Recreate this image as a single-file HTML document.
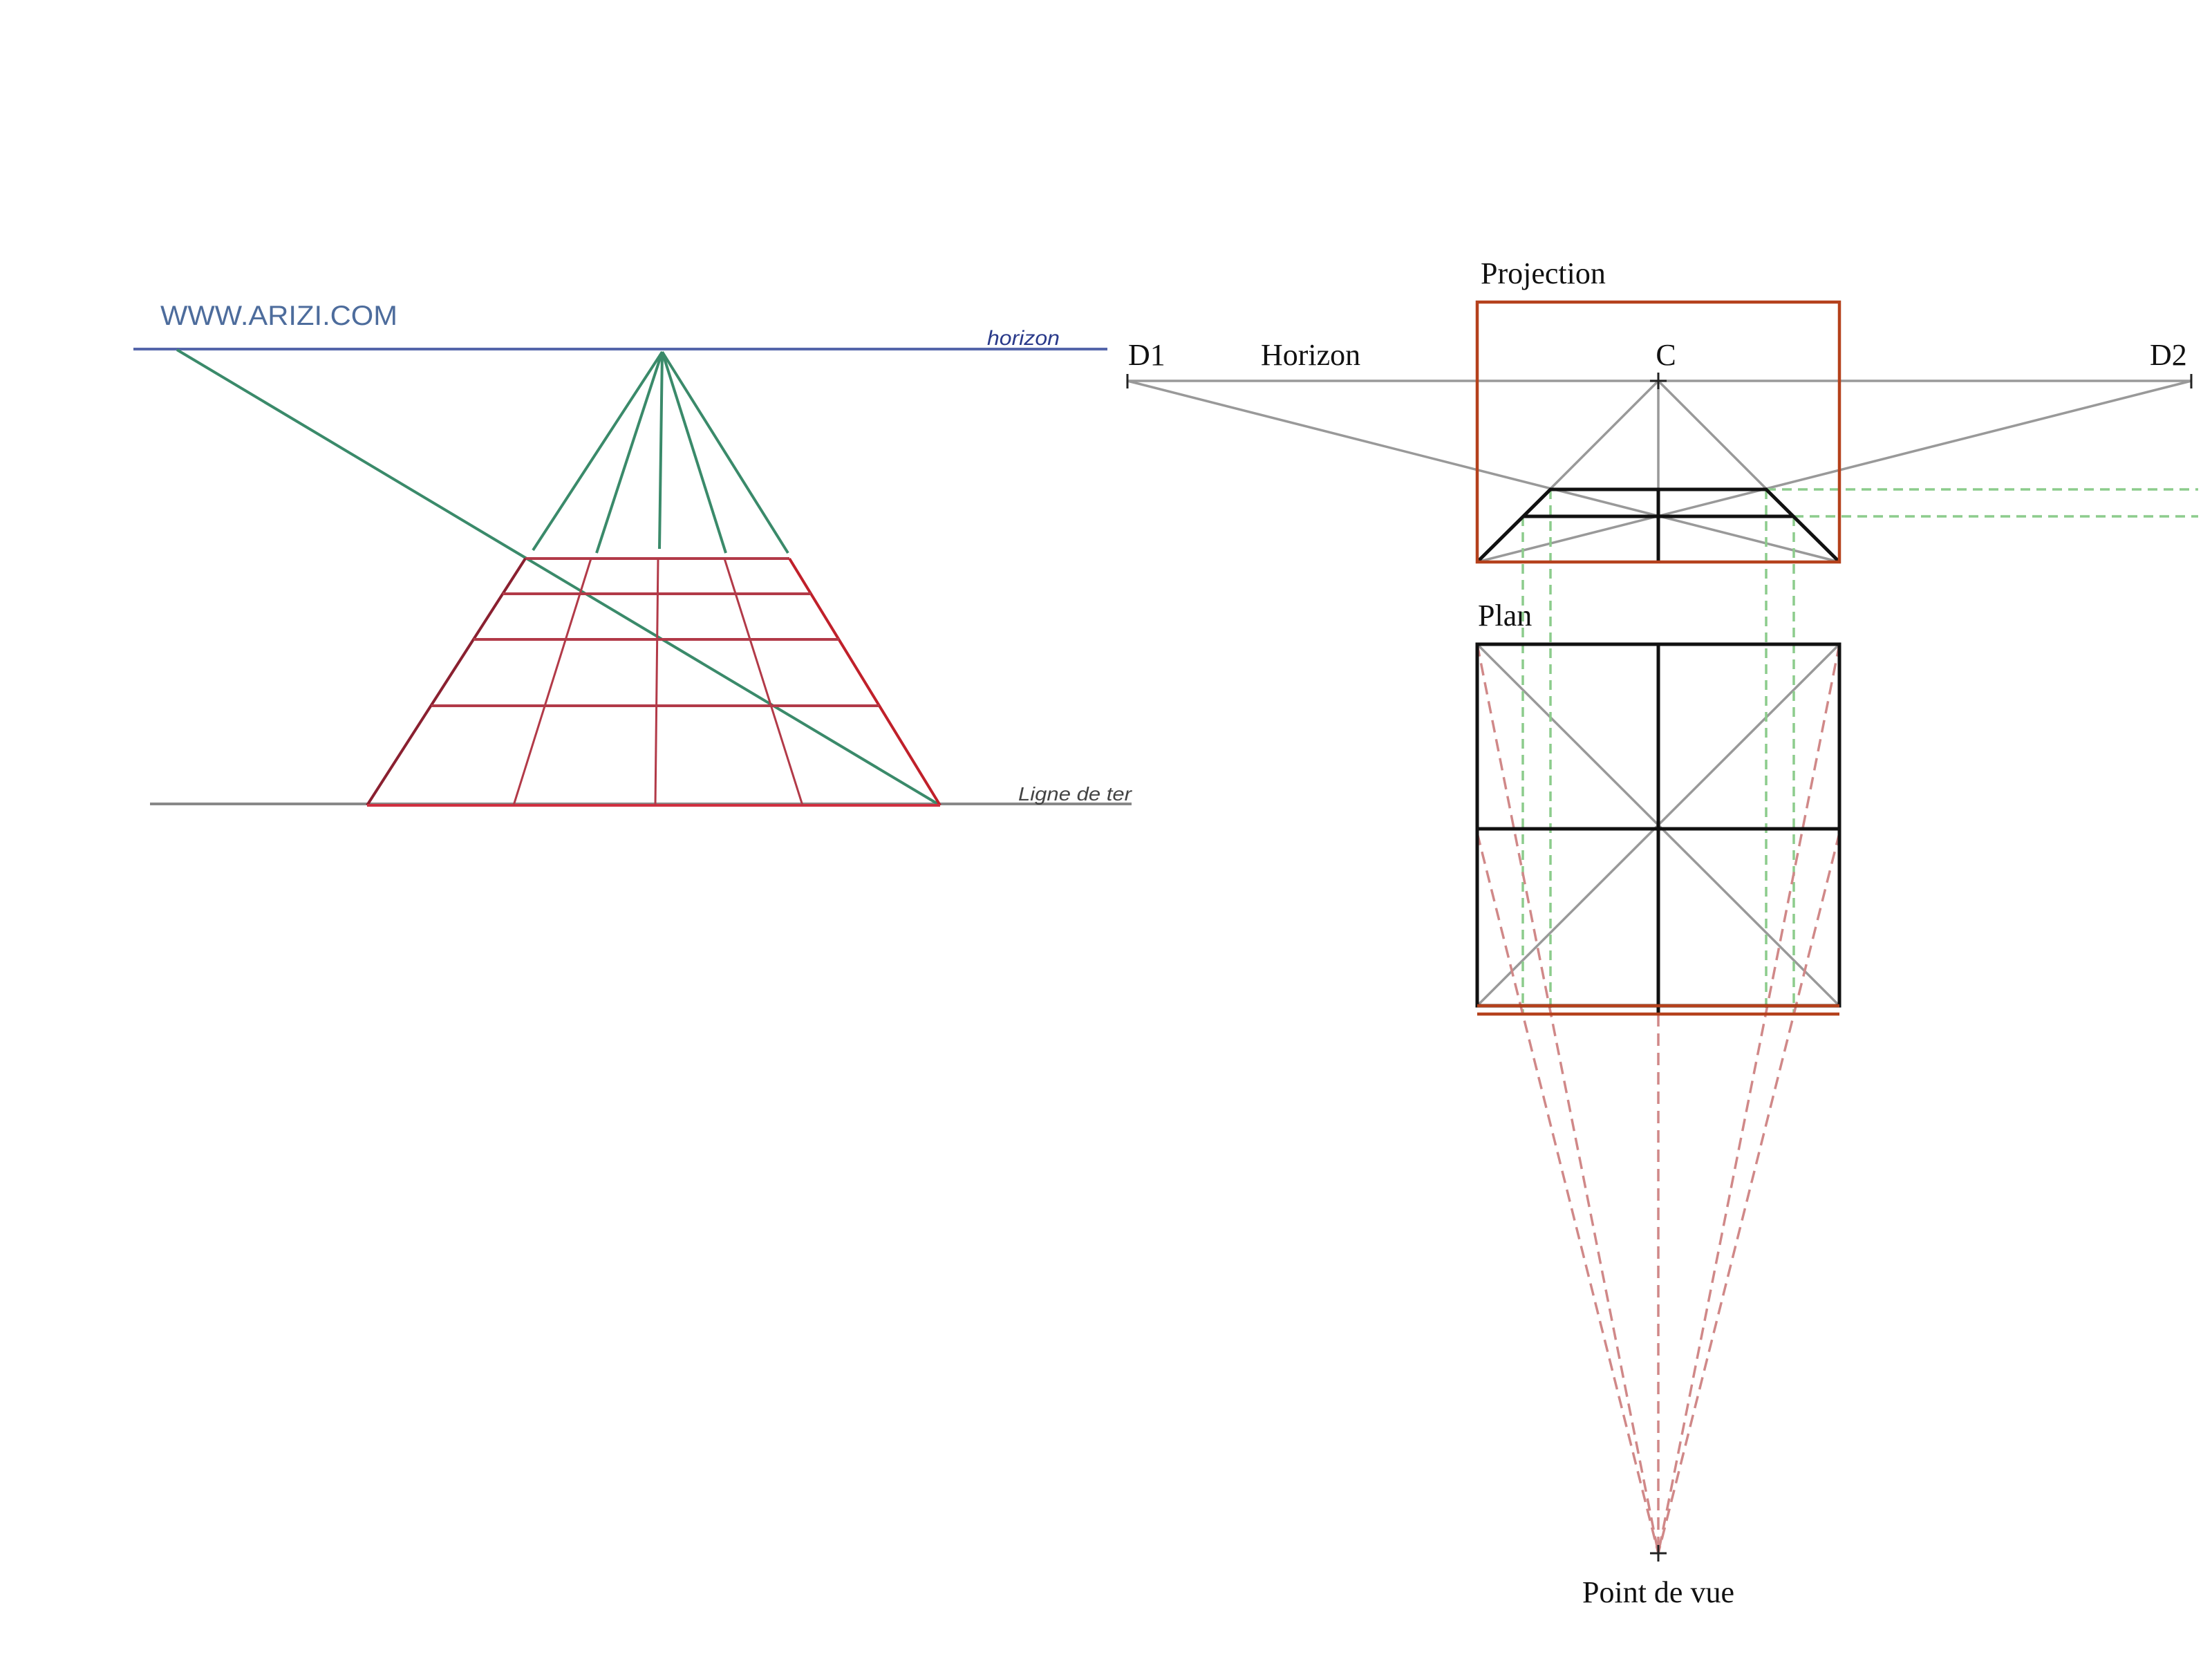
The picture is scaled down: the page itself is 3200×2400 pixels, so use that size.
<!DOCTYPE html>
<html><head><meta charset="utf-8"><style>html,body{margin:0;padding:0;background:#fff}svg{display:block}</style></head>
<body>
<svg width="3200" height="2400" viewBox="0 0 3200 2400" xmlns="http://www.w3.org/2000/svg">
<rect width="3200" height="2400" fill="#fff"/>
<!-- LEFT DRAWING -->
<text x="232" y="470" font-family="Liberation Sans, sans-serif" font-size="40" fill="#4d6c9c" textLength="343" lengthAdjust="spacingAndGlyphs">WWW.ARIZI.COM</text>
<line x1="193" y1="505" x2="1602" y2="505" stroke="#5566aa" stroke-width="4"/>
<text x="1428" y="499" font-family="Liberation Sans, sans-serif" font-size="30" fill="#2a3a8a" font-style="italic" textLength="105" lengthAdjust="spacingAndGlyphs">horizon</text>
<line x1="217" y1="1163" x2="1637" y2="1163" stroke="#888" stroke-width="4"/>
<text x="1473" y="1158" font-family="Liberation Sans, sans-serif" font-size="28" fill="#444" font-style="italic" textLength="164" lengthAdjust="spacingAndGlyphs">Ligne de ter</text>
<g stroke="#3a8a6a" stroke-width="4">
<line x1="256" y1="506" x2="1360" y2="1165"/>
<line x1="958" y1="509" x2="771" y2="796"/>
<line x1="958" y1="509" x2="863" y2="800"/>
<line x1="958" y1="509" x2="954" y2="794"/>
<line x1="958" y1="509" x2="1050" y2="800"/>
<line x1="958" y1="509" x2="1140" y2="800"/>
</g>
<g stroke="#b23a48" stroke-width="4">
<line x1="760" y1="808" x2="1142" y2="808"/>
<line x1="760" y1="808" x2="531" y2="1165" stroke="#8a2030"/>
<line x1="1142" y1="808" x2="1360" y2="1165" stroke="#c0202a"/>
<line x1="531" y1="1165" x2="1360" y2="1165" stroke="#d03040"/>
<line x1="727" y1="859" x2="1173" y2="859"/>
<line x1="685" y1="925" x2="1214" y2="925"/>
<line x1="624" y1="1021" x2="1272" y2="1021"/>
<line x1="855" y1="808" x2="743" y2="1165" stroke-width="3"/>
<line x1="952" y1="808" x2="948" y2="1165" stroke-width="3"/>
<line x1="1048" y1="808" x2="1161" y2="1165" stroke-width="3"/>
</g>
<!-- RIGHT DIAGRAM -->
<g font-family="Liberation Serif, serif" font-size="44" fill="#111">
<text x="2142" y="410">Projection</text>
<text x="1632" y="528">D1</text>
<text x="1824" y="528">Horizon</text>
<text x="2410" y="528" text-anchor="middle">C</text>
<text x="3110" y="528">D2</text>
<text x="2138" y="905">Plan</text>
<text x="2399" y="2318" text-anchor="middle">Point de vue</text>
</g>
<g stroke="#999" stroke-width="3.5" fill="none">
<line x1="1631" y1="551" x2="3170" y2="551"/>
<line x1="1631" y1="551" x2="2661" y2="813"/>
<line x1="3170" y1="551" x2="2137" y2="813"/>
<line x1="2399" y1="551" x2="2137" y2="813"/>
<line x1="2399" y1="551" x2="2661" y2="813"/>
<line x1="2399" y1="551" x2="2399" y2="708"/>
<line x1="2137" y1="932" x2="2661" y2="1455"/>
<line x1="2661" y1="932" x2="2137" y2="1455"/>
</g>
<g stroke="#222" stroke-width="3">
<line x1="1631" y1="541" x2="1631" y2="562"/>
<line x1="3170" y1="541" x2="3170" y2="562"/>
<line x1="2399" y1="539" x2="2399" y2="563"/>
<line x1="2387" y1="551" x2="2411" y2="551"/>
</g>
<g stroke="#8ccc8c" stroke-width="3.5" stroke-dasharray="14,9" fill="none">
<line x1="2555" y1="708" x2="3180" y2="708"/>
<line x1="2595" y1="747" x2="3180" y2="747"/>
<line x1="2203" y1="747" x2="2203" y2="1467"/>
<line x1="2243" y1="708" x2="2243" y2="1467"/>
<line x1="2555" y1="708" x2="2555" y2="1467"/>
<line x1="2595" y1="747" x2="2595" y2="1467"/>
</g>
<g stroke="#d08888" stroke-width="3.5" stroke-dasharray="18,10" fill="none">
<line x1="2137" y1="932" x2="2399" y2="2247"/>
<line x1="2137" y1="1205" x2="2399" y2="2247"/>
<line x1="2661" y1="932" x2="2399" y2="2247"/>
<line x1="2661" y1="1205" x2="2399" y2="2247"/>
<line x1="2399" y1="1467" x2="2399" y2="2247"/>
</g>
<g stroke="#222" stroke-width="3">
<line x1="2399" y1="2235" x2="2399" y2="2259"/>
<line x1="2387" y1="2247" x2="2411" y2="2247"/>
</g>
<g stroke="#111" stroke-width="5" fill="none">
<polyline points="2137,813 2243,708 2555,708 2661,813"/>
<line x1="2205" y1="747" x2="2593" y2="747"/>
<line x1="2399" y1="708" x2="2399" y2="813"/>
<rect x="2137" y="932" width="524" height="523"/>
<line x1="2399" y1="932" x2="2399" y2="1467"/>
<line x1="2137" y1="1199" x2="2661" y2="1199"/>
</g>
<g stroke="#b5411c" stroke-width="4.5" fill="none">
<rect x="2137" y="437" width="524" height="376"/>
<line x1="2137" y1="1455" x2="2661" y2="1455"/>
<line x1="2137" y1="1467" x2="2661" y2="1467"/>
</g>
</svg>
</body></html>
